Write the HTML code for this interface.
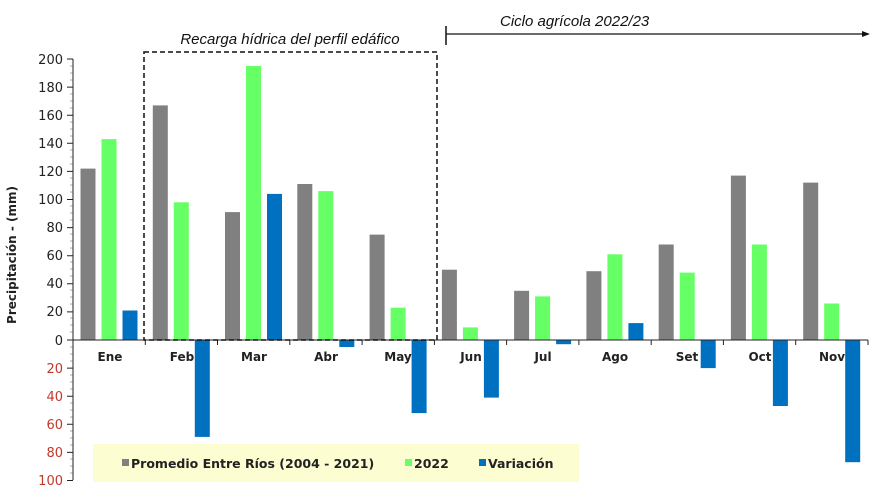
<!DOCTYPE html>
<html><head><meta charset="utf-8"><style>body{margin:0;background:#fff}svg{display:block;font-family:"DejaVu Sans","Liberation Sans",sans-serif}</style></head><body>
<svg width="885" height="492" viewBox="0 0 885 492">
<g fill="#808080">
<rect x="80.5" y="168.6" width="15" height="171.4"/><rect x="152.8" y="105.4" width="15" height="234.6"/><rect x="225" y="212.1" width="15" height="127.9"/><rect x="297.3" y="184" width="15" height="156"/><rect x="369.6" y="234.6" width="15" height="105.4"/><rect x="441.9" y="269.7" width="15" height="70.3"/><rect x="514.1" y="290.8" width="15" height="49.2"/><rect x="586.4" y="271.2" width="15" height="68.8"/><rect x="658.7" y="244.5" width="15" height="95.5"/><rect x="730.9" y="175.6" width="15" height="164.4"/><rect x="803.2" y="182.6" width="15" height="157.4"/>
</g>
<g fill="#66ff66">
<rect x="101.5" y="139.1" width="15" height="200.9"/><rect x="173.8" y="202.3" width="15" height="137.7"/><rect x="246" y="66" width="15" height="274"/><rect x="318.3" y="191.1" width="15" height="148.9"/><rect x="390.6" y="307.7" width="15" height="32.3"/><rect x="462.9" y="327.4" width="15" height="12.6"/><rect x="535.1" y="296.4" width="15" height="43.6"/><rect x="607.4" y="254.3" width="15" height="85.7"/><rect x="679.7" y="272.6" width="15" height="67.4"/><rect x="751.9" y="244.5" width="15" height="95.5"/><rect x="824.2" y="303.5" width="15" height="36.5"/>
</g>
<g fill="#0070c0">
<rect x="122.5" y="310.5" width="15" height="29.5"/><rect x="194.8" y="340" width="15" height="96.9"/><rect x="267" y="193.9" width="15" height="146.1"/><rect x="339.3" y="340" width="15" height="7"/><rect x="411.6" y="340" width="15" height="73.1"/><rect x="483.9" y="340" width="15" height="57.6"/><rect x="556.1" y="340" width="15" height="4.2"/><rect x="628.4" y="323.1" width="15" height="16.9"/><rect x="700.7" y="340" width="15" height="28.1"/><rect x="772.9" y="340" width="15" height="66"/><rect x="845.2" y="340" width="15" height="122.2"/>
</g>
<g stroke="#222" stroke-width="1">
<line x1="73" y1="59" x2="73" y2="480"/>
<line x1="73" y1="340" x2="868" y2="340"/>
<path d="M67 59H73M67 87.1H73M67 115.2H73M67 143.3H73M67 171.4H73M67 199.5H73M67 227.6H73M67 255.7H73M67 283.8H73M67 311.9H73M67 340H73M67 368.1H73M67 396.2H73M67 424.3H73M67 452.4H73M67 480.5H73"/>
<path d="M145.3 340v5M217.5 340v5M289.8 340v5M362.1 340v5M434.4 340v5M506.6 340v5M578.9 340v5M651.2 340v5M723.4 340v5M795.7 340v5M868 340v5"/>
</g>
<g stroke="#555" stroke-width="0.6">
<path d="M70 66H73M70 73H73M70 80H73M70 94H73M70 101H73M70 108H73M70 122H73M70 129H73M70 136H73M70 150H73M70 157H73M70 164H73M70 178H73M70 185H73M70 192H73M70 206H73M70 213H73M70 220H73M70 234H73M70 241H73M70 248H73M70 262H73M70 269H73M70 276H73M70 290H73M70 297H73M70 304H73M70 318H73M70 325H73M70 332H73M70 347H73M70 354H73M70 361H73M70 375H73M70 382H73M70 389H73M70 403H73M70 410H73M70 417H73M70 431H73M70 438H73M70 445H73M70 459H73M70 466H73M70 473H73"/>
</g>
<g font-size="13" fill="#222" text-anchor="end">
<text x="63" y="64">200</text><text x="63" y="92">180</text><text x="63" y="120">160</text><text x="63" y="148">140</text><text x="63" y="176">120</text><text x="63" y="204">100</text><text x="63" y="232">80</text><text x="63" y="260">60</text><text x="63" y="288">40</text><text x="63" y="316">20</text><text x="63" y="345">0</text>
<g fill="#c0392b"><text x="63" y="373">20</text><text x="63" y="401">40</text><text x="63" y="429">60</text><text x="63" y="457">80</text><text x="63" y="485">100</text></g>
</g>
<text transform="translate(16,255) rotate(-90)" font-size="12" font-weight="bold" fill="#222" text-anchor="middle">Precipitación - (mm)</text>
<g font-size="12" font-weight="bold" fill="#222" text-anchor="middle">
<text x="110" y="361">Ene</text><text x="182" y="361">Feb</text><text x="254" y="361">Mar</text><text x="326" y="361">Abr</text><text x="398" y="361">May</text><text x="471" y="361">Jun</text><text x="543" y="361">Jul</text><text x="615" y="361">Ago</text><text x="687" y="361">Set</text><text x="760" y="361">Oct</text><text x="832" y="361">Nov</text>
</g>
<rect x="144" y="52" width="293" height="288" fill="none" stroke="#111" stroke-width="1.5" stroke-dasharray="5,3"/>
<text x="290" y="44" font-size="15" font-style="italic" fill="#111" text-anchor="middle" font-family="Liberation Sans, sans-serif">Recarga hídrica del perfil edáfico</text>
<line x1="446" y1="26" x2="446" y2="45" stroke="#111" stroke-width="1.5"/>
<line x1="446" y1="34" x2="864" y2="34" stroke="#111" stroke-width="1.2"/>
<path d="M870 34L862 31V37Z" fill="#111"/>
<text x="500" y="26" font-size="15" font-style="italic" fill="#111" font-family="Liberation Sans, sans-serif">Ciclo agrícola 2022/23</text>
<rect x="93" y="444" width="486" height="38" fill="#fdfdd2"/>
<g font-size="12.5" font-weight="bold" fill="#222">
<rect x="122" y="459" width="7" height="7" fill="#808080"/><text x="131" y="468">Promedio Entre Ríos (2004 - 2021)</text>
<rect x="405" y="459" width="7" height="7" fill="#66ff66"/><text x="414" y="468">2022</text>
<rect x="479" y="459" width="7" height="7" fill="#0070c0"/><text x="488" y="468">Variación</text>
</g>
</svg>
</body></html>
